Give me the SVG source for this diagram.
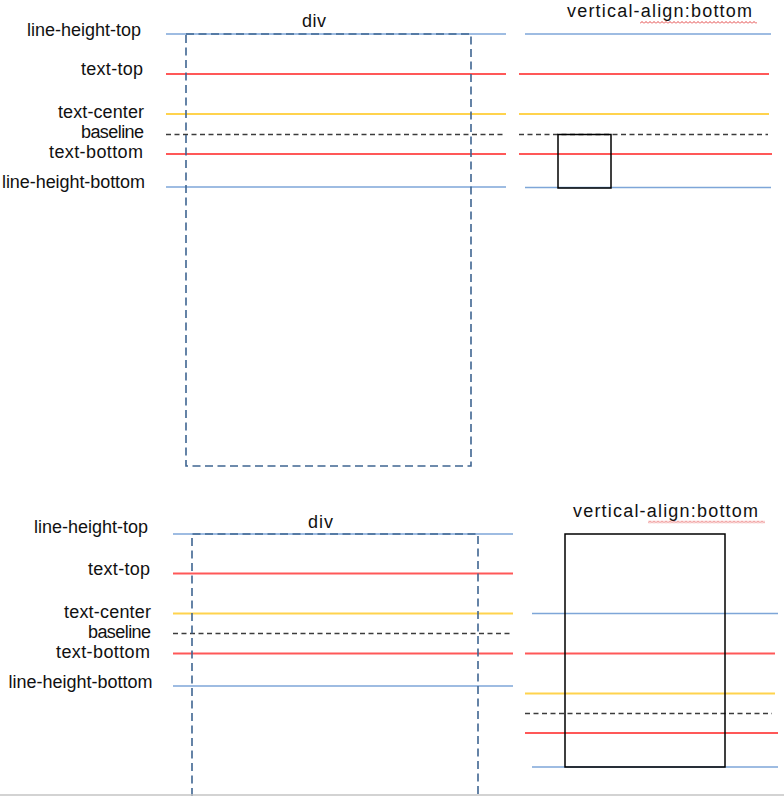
<svg xmlns="http://www.w3.org/2000/svg" width="784" height="796" viewBox="0 0 784 796">
  <style>
    .lbl { font-family: "Liberation Sans", Arial, sans-serif; font-size: 18px; fill: #111; }
    .blue { stroke: #7ea6d8; stroke-width: 1.6; fill: none; }
    .red { stroke: #ff5858; stroke-width: 2; fill: none; }
    .yellow { stroke: #ffd34d; stroke-width: 2; fill: none; }
    .base { stroke: #3c3c3c; stroke-width: 1.5; stroke-dasharray: 5 3.5; fill: none; }
    .div { stroke: #3f6591; stroke-width: 1.6; stroke-dasharray: 8 4.5; fill: none; }
    .box { stroke: #000; stroke-width: 1.5; fill: none; }
  </style>
  <defs>
    <pattern id="squig" patternUnits="userSpaceOnUse" x="0" y="0" width="4" height="3">
      <polyline points="0,2.5 2,0.5 4,2.5" fill="none" stroke="#e03030" stroke-width="0.9"/>
    </pattern>
  </defs>
  <rect width="784" height="796" fill="#fff"/>

  <!-- ===== TOP SECTION ===== -->
  <g id="top-labels">
    <text class="lbl" x="27" y="36" textLength="114">line-height-top</text>
    <text class="lbl" x="81" y="75" textLength="62">text-top</text>
    <text class="lbl" x="58" y="118" textLength="86">text-center</text>
    <text class="lbl" x="81" y="138" textLength="63">baseline</text>
    <text class="lbl" x="49" y="158" textLength="94">text-bottom</text>
    <text class="lbl" x="2" y="188" textLength="143">line-height-bottom</text>
  </g>
  <g id="top-div-title">
    <text class="lbl" x="302" y="26.5" textLength="24">div</text>
  </g>
  <g id="top-va-title">
    <text class="lbl" x="567" y="16.5" textLength="185">vertical-align:bottom</text>
    <rect x="640" y="21" width="117" height="3" fill="url(#squig)"/>
  </g>
  <g id="top-left-lines">
    <line class="blue" x1="166" y1="34" x2="506" y2="34"/>
    <line class="red" x1="166" y1="74" x2="506" y2="74"/>
    <line class="yellow" x1="166" y1="114" x2="506" y2="114"/>
    <line class="base" x1="166" y1="134.5" x2="506" y2="134.5"/>
    <line class="red" x1="166" y1="154" x2="506" y2="154"/>
    <line class="blue" x1="166" y1="187" x2="506" y2="187"/>
  </g>
  <g id="top-div-box">
    <rect class="div" x="186" y="34" width="285" height="432"/>
  </g>
  <g id="top-right-lines">
    <line class="blue" x1="525" y1="34" x2="771" y2="34"/>
    <line class="red" x1="519" y1="74" x2="769" y2="74"/>
    <line class="yellow" x1="519" y1="114" x2="769" y2="114"/>
    <line class="base" x1="519" y1="134.5" x2="768" y2="134.5"/>
    <line class="red" x1="519" y1="154" x2="772" y2="154"/>
    <line class="blue" x1="525" y1="187.5" x2="771" y2="187.5"/>
  </g>
  <g id="top-inline-box">
    <rect class="box" x="558" y="134.5" width="53" height="53.5"/>
  </g>

  <!-- ===== BOTTOM SECTION ===== -->
  <g id="bottom-labels">
    <text class="lbl" x="34" y="533" textLength="114">line-height-top</text>
    <text class="lbl" x="88" y="574.5" textLength="62">text-top</text>
    <text class="lbl" x="64" y="618" textLength="87">text-center</text>
    <text class="lbl" x="88" y="638" textLength="63">baseline</text>
    <text class="lbl" x="56" y="658" textLength="94">text-bottom</text>
    <text class="lbl" x="8.5" y="688" textLength="144">line-height-bottom</text>
  </g>
  <g id="bottom-div-title">
    <text class="lbl" x="308" y="527.5" textLength="25">div</text>
  </g>
  <g id="bottom-va-title">
    <text class="lbl" x="573" y="516.5" textLength="185">vertical-align:bottom</text>
    <g transform="translate(8,499.5)">
      <rect x="640" y="21" width="117" height="3" fill="url(#squig)"/>
    </g>
  </g>
  <g id="bottom-left-lines">
    <line class="blue" x1="173" y1="534" x2="513" y2="534"/>
    <line class="red" x1="173" y1="573.5" x2="513" y2="573.5"/>
    <line class="yellow" x1="173" y1="613.5" x2="513" y2="613.5"/>
    <line class="base" x1="173" y1="633.5" x2="513" y2="633.5"/>
    <line class="red" x1="173" y1="653.5" x2="513" y2="653.5"/>
    <line class="blue" x1="173" y1="686" x2="513" y2="686"/>
  </g>
  <g id="bottom-div-box">
    <path class="div" d="M192,796 V534 H478 V796"/>
  </g>
  <g id="bottom-right-lines">
    <line class="blue" x1="532" y1="613.5" x2="778" y2="613.5"/>
    <line class="red" x1="525" y1="653.5" x2="775" y2="653.5"/>
    <line class="yellow" x1="525" y1="693.5" x2="775" y2="693.5"/>
    <line class="base" x1="525" y1="713.5" x2="772" y2="713.5"/>
    <line class="red" x1="525" y1="733" x2="778" y2="733"/>
    <line class="blue" x1="532" y1="767" x2="778" y2="767"/>
  </g>
  <g id="bottom-inline-box">
    <rect class="box" x="565" y="534" width="160" height="233"/>
  </g>

  <g id="page-edge">
    <line x1="0" y1="795" x2="784" y2="795" stroke="#c4c4c4" stroke-width="1.5"/>
  </g>
</svg>
